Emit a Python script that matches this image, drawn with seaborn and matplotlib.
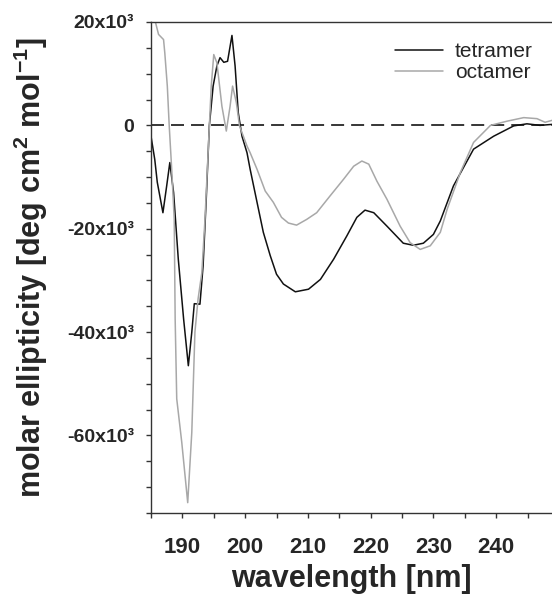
import pandas as pd
import seaborn as sns
import matplotlib.pyplot as plt
from matplotlib.ticker import MultipleLocator

# CD spectra: wavelength [nm], molar ellipticity [deg cm2 mol-1]
tetramer_nm = [185.0, 185.6, 186.0, 186.9, 187.5, 188.0, 188.6, 189.35, 190.2, 190.95,
               191.5, 191.9, 192.8, 193.3, 193.8, 194.3, 194.9, 195.5, 196.0, 196.6,
               197.2, 197.9, 198.4, 198.9, 199.5, 200.3, 200.8, 201.9, 202.9, 204.0,
               205.0, 206.1, 208.0, 210.1, 212.0, 214.1, 216.2, 217.8, 219.1, 220.5,
               222.6, 225.2, 226.8, 228.4, 230.0, 231.1, 233.2, 236.4, 239.6, 242.8,
               244.9, 247.0, 249.0]
tetramer_theta = [-2100, -6600, -11000, -16900, -11700, -7200, -13000, -25900, -37500, -46500,
                  -40000, -34500, -34600, -27200, -14300, 0, 7600, 11500, 13100, 12200,
                  12400, 17400, 11500, 2500, -2100, -5300, -8500, -14900, -20700, -25200,
                  -28800, -30700, -32200, -31700, -29800, -25900, -21400, -17800, -16400, -16900,
                  -19500, -22800, -23200, -22800, -21100, -18500, -11700, -4600, -2100, -100,
                  300, 0, 200]

octamer_nm = [185.0, 185.6, 186.2, 187.0, 187.2, 187.6, 187.9, 188.3, 188.7, 188.85,
              189.1, 189.9, 190.85, 191.5, 192.0, 192.5, 193.1, 193.6, 194.1, 194.6,
              195.0, 195.5, 196.3, 197.0, 197.6, 198.0, 198.6, 199.1, 200.3, 200.8,
              201.9, 203.2, 204.5, 205.8, 206.9, 208.2, 209.8, 211.4, 213.5, 215.7,
              217.3, 218.6, 219.7, 221.0, 222.6, 224.7, 226.3, 227.9, 229.5, 231.1,
              232.2, 234.3, 236.4, 239.1, 241.7, 244.4, 246.5, 247.8, 249.0]
octamer_theta = [24000, 20500, 17600, 16600, 14000, 7600, 0, -8500, -18200, -37500,
                 -52900, -61300, -73000, -59400, -40000, -33600, -28500, -18200, -5300, 7600,
                 13700, 12100, 3700, -1100, 3700, 7600, 4400, -100, -4000, -5300,
                 -8500, -12700, -14900, -17800, -18900, -19300, -18200, -16900, -13700, -10400,
                 -7900, -6900, -7500, -10800, -14300, -19500, -22700, -24000, -23300, -20700,
                 -16200, -9100, -3300, 0, 800, 1500, 1300, 600, 1000]

series_names = ["tetramer", "octamer"]
series_colors = ["#111111", "#a8a8a8"]
xtick_values = [190, 200, 210, 220, 230, 240]
ytick_values = [-60000, -40000, -20000, 0, 20000]
ytick_labels = ["-60x10³", "-40x10³", "-20x10³", "0", "20x10³"]

df = pd.concat([
    pd.DataFrame({"wavelength": tetramer_nm, "theta": tetramer_theta, "sample": series_names[0]}),
    pd.DataFrame({"wavelength": octamer_nm, "theta": octamer_theta, "sample": series_names[1]}),
], ignore_index=True)

sns.set_style("ticks")
plt.rcParams["font.family"] = ["Liberation Sans", "DejaVu Sans"]
plt.rcParams["mathtext.fontset"] = "custom"
plt.rcParams["mathtext.rm"] = "Liberation Sans:bold"
plt.rcParams["mathtext.it"] = "Liberation Sans:bold"
plt.rcParams["mathtext.bf"] = "Liberation Sans:bold"

fig = plt.figure(figsize=(5.52, 5.98), dpi=100)
ax = fig.add_axes([151 / 552, 85 / 598, 401 / 552, 491 / 598])

sns.lineplot(data=df, x="wavelength", y="theta", hue="sample", hue_order=series_names,
             palette=dict(zip(series_names, series_colors)), sort=False, estimator=None,
             linewidth=1.1, ax=ax)

ax.axhline(0, color="black", linewidth=1.1, dashes=(8.5, 4.6), zorder=0)

ax.set_xlim(185, 248.9)
ax.set_ylim(-75000, 20000)
ax.set_xticks(xtick_values)
ax.set_xticklabels([str(v) for v in xtick_values])
ax.xaxis.set_minor_locator(MultipleLocator(5))
ax.set_yticks(ytick_values)
ax.set_yticklabels(ytick_labels)
ax.yaxis.set_minor_locator(MultipleLocator(5000))

for side in ["left", "top", "bottom"]:
    ax.spines[side].set_linewidth(1.0)
    ax.spines[side].set_color("#333333")
ax.spines["right"].set_visible(False)

ax.tick_params(axis="both", which="both", direction="out", length=3.6, width=1.0, color="#333333")
ax.tick_params(axis="x", which="major", labelsize=16, pad=14)
ax.tick_params(axis="y", which="major", labelsize=14, pad=8.5)
for lbl in ax.get_xticklabels() + ax.get_yticklabels():
    lbl.set_fontweight("bold")

ax.set_xlabel("wavelength [nm]", fontsize=22, fontweight="bold")
ax.set_ylabel(r"molar ellipticity [deg cm$^{2}$ mol$^{-1}$]", fontsize=22, fontweight="bold")
ax.xaxis.set_label_coords(0.501, -0.104)
ax.yaxis.set_label_coords(-0.252, 0.5)

handles, labels = ax.get_legend_handles_labels()
ax.legend(handles, labels, loc="upper left", bbox_to_anchor=(395 / 552, 1 - 42 / 598),
          bbox_transform=fig.transFigure, frameon=False, fontsize=15, borderpad=0,
          borderaxespad=0, handlelength=2.3, handletextpad=0.58, labelspacing=0.1)

fig.savefig("out.png", dpi=100)
